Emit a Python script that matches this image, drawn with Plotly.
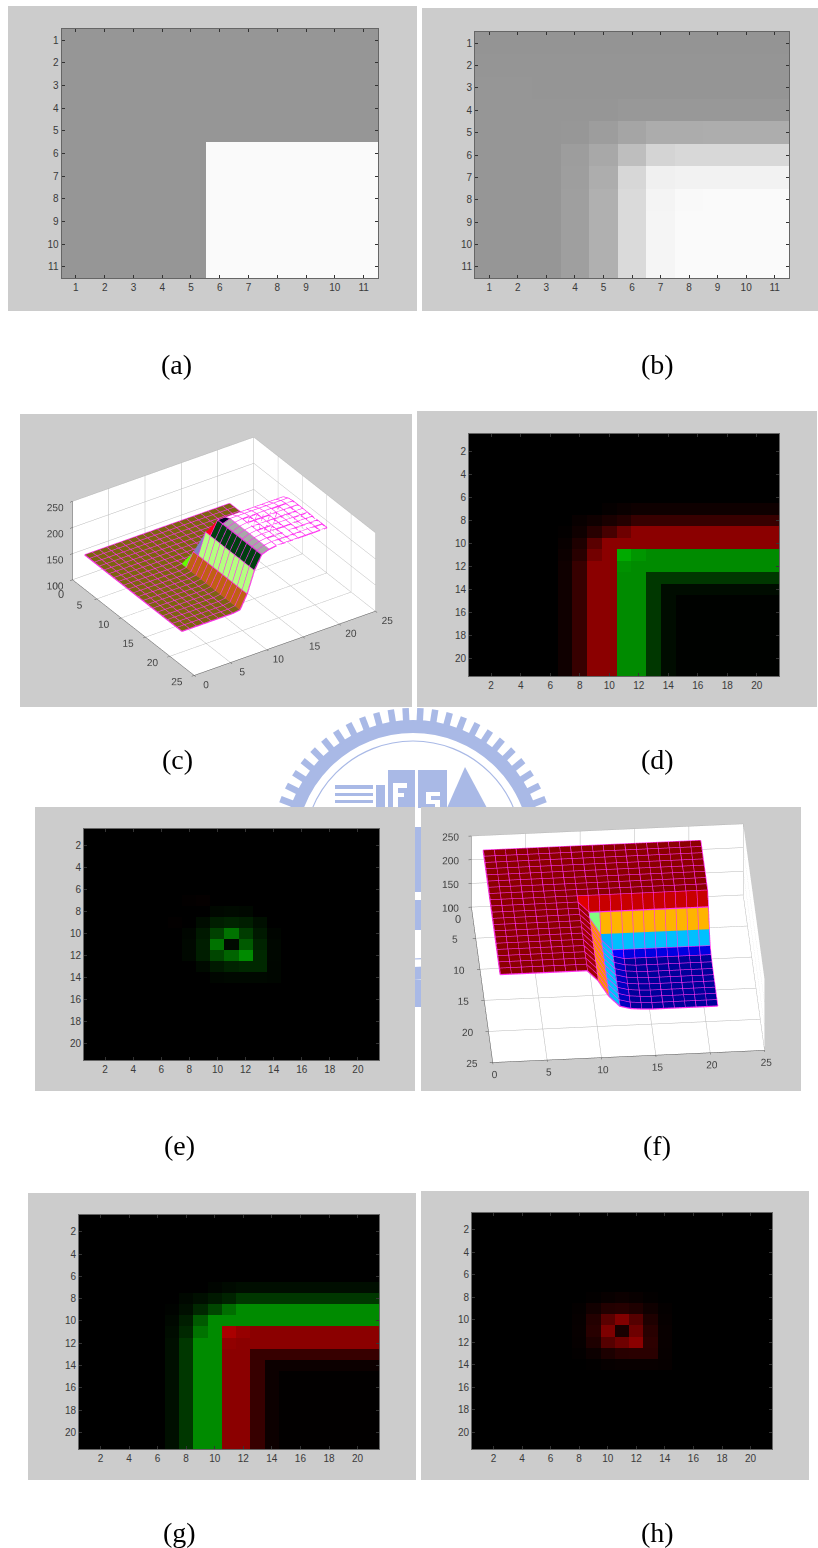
import math
import plotly.graph_objects as go

W, H = 818, 1548
def fx(p): return p / W
def fy(p): return 1 - p / H

# ---------- image data ----------
ticks_11 = [1, 2, 3, 4, 5, 6, 7, 8, 9, 10, 11]
ticks_21 = [2, 4, 6, 8, 10, 12, 14, 16, 18, 20]

panel_a = [
 [150,150,150,150,150,150,150,150,150,150,150],
 [150,150,150,150,150,150,150,150,150,150,150],
 [150,150,150,150,150,150,150,150,150,150,150],
 [150,150,150,150,150,150,150,150,150,150,150],
 [150,150,150,150,150,150,150,150,150,150,150],
 [150,150,150,150,150,250,250,250,250,250,250],
 [150,150,150,150,150,250,250,250,250,250,250],
 [150,150,150,150,150,250,250,250,250,250,250],
 [150,150,150,150,150,250,250,250,250,250,250],
 [150,150,150,150,150,250,250,250,250,250,250],
 [150,150,150,150,150,250,250,250,250,250,250],
]
panel_b = [
 [148,148,148,148,148,148,148,148,148,148,148],
 [149,149,149,149,149,149,149,149,149,149,149],
 [150,150,149,149,149,149,149,149,149,149,149],
 [150,150,150,150,150,152,152,152,152,152,152],
 [150,150,150,151,157,165,172,172,173,173,173],
 [150,150,150,157,168,190,212,216,216,216,216],
 [150,150,150,158,173,215,240,242,242,242,242],
 [150,150,150,159,176,218,244,249,250,250,250],
 [150,150,150,159,176,218,245,250,250,250,250],
 [150,150,150,159,176,218,245,250,250,250,250],
 [150,150,150,159,176,218,245,250,250,250,250],
]
panel_d = [
 [0,0,0,0,0,0,0,0,0,0,0,0,0,0,0,0,0,0,0,0,0],
 [0,0,0,0,0,0,0,0,0,0,0,0,0,0,0,0,0,0,0,0,0],
 [0,0,0,0,0,0,0,0,0,0,0,0,0,0,0,0,0,0,0,0,0],
 [0,0,0,0,0,0,0,0,0,0,0,0,0,0,0,0,0,0,0,0,0],
 [0,0,0,0,0,0,0,0,0,0,0,0,0,0,0,0,0,0,0,0,0],
 [0,0,0,0,0,0,0,0,0,0,0,0,0,0,0,0,0,0,0,0,0],
 [0,0,0,0,0,0,0,0,0,5,10,14,14,14,14,14,14,14,14,14,14],
 [0,0,0,0,0,0,0,8,15,25,35,55,55,55,55,55,55,55,55,55,55],
 [0,0,0,0,0,0,3,15,40,70,110,139,139,139,139,139,139,139,139,139,139],
 [0,0,0,0,0,0,8,30,90,139,139,139,139,139,139,139,139,139,139,139,139],
 [0,0,0,0,0,0,12,40,115,139,-170,-150,-139,-139,-139,-139,-139,-139,-139,-139,-139],
 [0,0,0,0,0,0,15,55,139,139,-145,-139,-139,-139,-139,-139,-139,-139,-139,-139,-139],
 [0,0,0,0,0,0,15,55,139,139,-139,-139,-55,-55,-55,-55,-55,-55,-55,-55,-55],
 [0,0,0,0,0,0,15,55,139,139,-139,-139,-55,-12,-12,-12,-12,-12,-12,-12,-12],
 [0,0,0,0,0,0,15,55,139,139,-139,-139,-55,-12,-2,-2,-2,-2,-2,-2,-2],
 [0,0,0,0,0,0,15,55,139,139,-139,-139,-55,-12,-2,-2,-2,-2,-2,-2,-2],
 [0,0,0,0,0,0,15,55,139,139,-139,-139,-55,-12,-2,-2,-2,-2,-2,-2,-2],
 [0,0,0,0,0,0,15,55,139,139,-139,-139,-55,-12,-2,-2,-2,-2,-2,-2,-2],
 [0,0,0,0,0,0,15,55,139,139,-139,-139,-55,-12,-2,-2,-2,-2,-2,-2,-2],
 [0,0,0,0,0,0,15,55,139,139,-139,-139,-55,-12,-2,-2,-2,-2,-2,-2,-2],
 [0,0,0,0,0,0,15,55,139,139,-139,-139,-55,-12,-2,-2,-2,-2,-2,-2,-2],
]
panel_g = [
 [0,0,0,0,0,0,0,0,0,0,0,0,0,0,0,0,0,0,0,0,0],
 [0,0,0,0,0,0,0,0,0,0,0,0,0,0,0,0,0,0,0,0,0],
 [0,0,0,0,0,0,0,0,0,0,0,0,0,0,0,0,0,0,0,0,0],
 [0,0,0,0,0,0,0,0,0,0,0,0,0,0,0,0,0,0,0,0,0],
 [0,0,0,0,0,0,0,0,0,0,0,0,0,0,0,0,0,0,0,0,0],
 [0,0,0,0,0,0,0,0,0,0,0,0,0,0,0,0,0,0,0,0,0],
 [0,0,0,0,0,0,0,0,0,-5,-10,-14,-14,-14,-14,-14,-14,-14,-14,-14,-14],
 [0,0,0,0,0,0,0,-8,-15,-25,-35,-55,-55,-55,-55,-55,-55,-55,-55,-55,-55],
 [0,0,0,0,0,0,-3,-15,-40,-70,-110,-139,-139,-139,-139,-139,-139,-139,-139,-139,-139],
 [0,0,0,0,0,0,-8,-30,-90,-139,-139,-139,-139,-139,-139,-139,-139,-139,-139,-139,-139],
 [0,0,0,0,0,0,-12,-40,-115,-139,170,150,139,139,139,139,139,139,139,139,139],
 [0,0,0,0,0,0,-15,-55,-139,-139,145,139,139,139,139,139,139,139,139,139,139],
 [0,0,0,0,0,0,-15,-55,-139,-139,139,139,55,55,55,55,55,55,55,55,55],
 [0,0,0,0,0,0,-15,-55,-139,-139,139,139,55,12,12,12,12,12,12,12,12],
 [0,0,0,0,0,0,-15,-55,-139,-139,139,139,55,12,2,2,2,2,2,2,2],
 [0,0,0,0,0,0,-15,-55,-139,-139,139,139,55,12,2,2,2,2,2,2,2],
 [0,0,0,0,0,0,-15,-55,-139,-139,139,139,55,12,2,2,2,2,2,2,2],
 [0,0,0,0,0,0,-15,-55,-139,-139,139,139,55,12,2,2,2,2,2,2,2],
 [0,0,0,0,0,0,-15,-55,-139,-139,139,139,55,12,2,2,2,2,2,2,2],
 [0,0,0,0,0,0,-15,-55,-139,-139,139,139,55,12,2,2,2,2,2,2,2],
 [0,0,0,0,0,0,-15,-55,-139,-139,139,139,55,12,2,2,2,2,2,2,2],
]
panel_e = [
 [0,0,0,0,0,0,0,0,0,0,0,0,0,0,0,0,0,0,0,0,0],
 [0,0,0,0,0,0,0,0,0,0,0,0,0,0,0,0,0,0,0,0,0],
 [0,0,0,0,0,0,0,0,0,0,0,0,0,0,0,0,0,0,0,0,0],
 [0,0,0,0,0,0,0,0,0,0,0,0,0,0,0,0,0,0,0,0,0],
 [0,0,0,0,0,0,0,0,0,0,0,0,0,0,0,0,0,0,0,0,0],
 [0,0,0,0,0,0,0,0,0,0,0,0,0,0,0,0,0,0,0,0,0],
 [0,0,0,0,0,0,0,3,5,0,0,0,0,0,0,0,0,0,0,0,0],
 [0,0,0,0,0,0,0,0,0,-8,-10,-8,0,0,0,0,0,0,0,0,0],
 [0,0,0,0,0,0,3,0,-12,-30,-35,-30,-15,0,0,0,0,0,0,0,0],
 [0,0,0,0,0,0,0,-6,-25,-65,-115,-60,-25,-5,0,0,0,0,0,0,0],
 [0,0,0,0,0,0,0,-8,-30,-115,-10,-90,-35,-7,0,0,0,0,0,0,0],
 [0,0,0,0,0,0,0,-8,-30,-70,-100,-139,-40,-7,0,0,0,0,0,0,0],
 [0,0,0,0,0,0,0,0,-10,-25,-35,-40,-40,-6,0,0,0,0,0,0,0],
 [0,0,0,0,0,0,0,0,0,-6,-8,-8,-8,-6,0,0,0,0,0,0,0],
 [0,0,0,0,0,0,0,0,0,0,0,0,0,0,0,0,0,0,0,0,0],
 [0,0,0,0,0,0,0,0,0,0,0,0,0,0,0,0,0,0,0,0,0],
 [0,0,0,0,0,0,0,0,0,0,0,0,0,0,0,0,0,0,0,0,0],
 [0,0,0,0,0,0,0,0,0,0,0,0,0,0,0,0,0,0,0,0,0],
 [0,0,0,0,0,0,0,0,0,0,0,0,0,0,0,0,0,0,0,0,0],
 [0,0,0,0,0,0,0,0,0,0,0,0,0,0,0,0,0,0,0,0,0],
 [0,0,0,0,0,0,0,0,0,0,0,0,0,0,0,0,0,0,0,0,0],
]
panel_h = [
 [0,0,0,0,0,0,0,0,0,0,0,0,0,0,0,0,0,0,0,0,0],
 [0,0,0,0,0,0,0,0,0,0,0,0,0,0,0,0,0,0,0,0,0],
 [0,0,0,0,0,0,0,0,0,0,0,0,0,0,0,0,0,0,0,0,0],
 [0,0,0,0,0,0,0,0,0,0,0,0,0,0,0,0,0,0,0,0,0],
 [0,0,0,0,0,0,0,0,0,0,0,0,0,0,0,0,0,0,0,0,0],
 [0,0,0,0,0,0,0,0,0,0,0,0,0,0,0,0,0,0,0,0,0],
 [0,0,0,0,0,0,0,0,0,0,0,0,0,0,0,0,0,0,0,0,0],
 [0,0,0,0,0,0,0,0,3,8,12,8,3,0,0,0,0,0,0,0,0],
 [0,0,0,0,0,0,0,4,18,35,38,30,15,4,0,0,0,0,0,0,0],
 [0,0,0,0,0,0,0,6,35,90,130,85,30,6,0,0,0,0,0,0,0],
 [0,0,0,0,0,0,0,7,40,125,25,110,40,8,0,0,0,0,0,0,0],
 [0,0,0,0,0,0,0,6,30,85,110,139,45,8,0,0,0,0,0,0,0],
 [0,0,0,0,0,0,0,3,12,28,40,42,42,7,0,0,0,0,0,0,0],
 [0,0,0,0,0,0,0,0,2,6,8,8,8,6,0,0,0,0,0,0,0],
 [0,0,0,0,0,0,0,0,0,0,0,0,0,0,0,0,0,0,0,0,0],
 [0,0,0,0,0,0,0,0,0,0,0,0,0,0,0,0,0,0,0,0,0],
 [0,0,0,0,0,0,0,0,0,0,0,0,0,0,0,0,0,0,0,0,0],
 [0,0,0,0,0,0,0,0,0,0,0,0,0,0,0,0,0,0,0,0,0],
 [0,0,0,0,0,0,0,0,0,0,0,0,0,0,0,0,0,0,0,0,0],
 [0,0,0,0,0,0,0,0,0,0,0,0,0,0,0,0,0,0,0,0,0],
 [0,0,0,0,0,0,0,0,0,0,0,0,0,0,0,0,0,0,0,0,0],
]

# ---------- surfaces: height against grid index ----------
grid_1_21 = [1,2,3,4,5,6,7,8,9,10,11,12,13,14,15,16,17,18,19,20,21]
height_c = [150,150,150,150,150,150,150,150,152,178,218,243,248,250,250,250,250,250,250,250,250]
height_f = [232,232,232,232,232,232,232,232,232,210,176,154,148,146,145,145,145,145,145,145,145]
band_c = ['#7c6410','#7c6410','#7c6410','#7c6410','#7c6410','#7c6410','#7c6410','#7c6410',
          '#c06014','#b4ff80','#004010','#a8a8a8','#ffffff','#ffffff','#ffffff','#ffffff',
          '#ffffff','#ffffff','#ffffff','#ffffff']
corner_c = {8: '#60ff00', 9: '#8080c0', 10: '#ff0020', 11: '#000020'}
band_f_row = ['#8b0000','#8b0000','#8b0000','#8b0000','#8b0000','#8b0000','#8b0000','#8b0000',
              '#c80000','#ffb400','#00c0ff','#0000e0','#00009a','#00009a','#00009a','#00009a',
              '#00009a','#00009a','#00009a','#00009a']
band_f_col = ['#8b0000','#8b0000','#8b0000','#8b0000','#8b0000','#8b0000','#8b0000','#8b0000',
              '#a00000','#ff9000','#00c0ff','#0000c0','#00009a','#00009a','#00009a','#00009a',
              '#00009a','#00009a','#00009a','#00009a']
corner_f = {8: '#e00000', 9: '#80ff80', 10: '#00b0ff', 11: '#0000ff'}

axis_ticks_3d = [0, 5, 10, 15, 20, 25]
ztick_3d = [100, 150, 200, 250]

GREY = '#cccccc'
fig = go.Figure()
shapes = []
WM = '#a9b9e6'

# watermark behind everything
cx, cy = 413, 850
shapes.append(dict(type='circle', xref='paper', yref='paper', layer='below',
                   x0=fx(cx-123.5), x1=fx(cx+123.5), y0=fy(cy-123.5), y1=fy(cy+123.5),
                   line=dict(color=WM, width=13)))
shapes.append(dict(type='circle', xref='paper', yref='paper', layer='below',
                   x0=fx(cx-109), x1=fx(cx+109), y0=fy(cy-109), y1=fy(cy+109),
                   line=dict(color=WM, width=1.2)))
for deg in range(-90, 90, 6):
    t = math.radians(deg + 3)
    shapes.append(dict(type='line', xref='paper', yref='paper', layer='below',
                       x0=fx(cx+128*math.sin(t)), y0=fy(cy-128*math.cos(t)),
                       x1=fx(cx+142*math.sin(t)), y1=fy(cy-142*math.cos(t)),
                       line=dict(color=WM, width=6.5)))
for (x0, y0, x1, y1) in [(388, 770, 415, 808), (418, 770, 447, 808), (335, 785, 373, 789),
                         (335, 793, 373, 796), (335, 800, 373, 803), (376, 785, 385, 808),
                         (414, 827, 422, 892), (414, 900, 422, 930), (414, 980, 422, 1007)]:
    shapes.append(dict(type='rect', xref='paper', yref='paper', layer='below',
                       x0=fx(x0), x1=fx(x1), y0=fy(y0), y1=fy(y1),
                       fillcolor=WM, line=dict(width=0)))
shapes.append(dict(type='path', xref='paper', yref='paper', layer='below',
                   path=f'M {fx(447)} {fy(808)} L {fx(465)} {fy(767)} L {fx(487)} {fy(808)} Z',
                   fillcolor=WM, line=dict(width=0)))
for (x0, y0, x1, y1) in [(393, 783, 407, 788), (393, 783, 398, 808), (393, 793, 404, 797),
                         (426, 792, 440, 796), (426, 796, 431, 800), (426, 800, 440, 804),
                         (435, 804, 440, 808)]:
    shapes.append(dict(type='rect', xref='paper', yref='paper', layer='below',
                       x0=fx(x0), x1=fx(x1), y0=fy(y0), y1=fy(y1),
                       fillcolor='white', line=dict(width=0)))

panels = [(8, 6, 417, 311), (422, 8, 818, 311), (20, 414, 412, 707), (417, 411, 817, 707),
          (35, 807, 415, 1091), (421, 807, 801, 1091), (28, 1193, 416, 1480), (421, 1191, 809, 1480)]
for (x0, y0, x1, y1) in panels:
    shapes.append(dict(type='rect', xref='paper', yref='paper', layer='below',
                       x0=fx(x0), x1=fx(x1), y0=fy(y0), y1=fy(y1),
                       fillcolor=GREY, line=dict(width=0)))

rb_scale = [[0, 'rgb(0,170,0)'], [0.5, 'rgb(0,0,0)'], [1, 'rgb(170,0,0)']]
grey_scale = [[0, 'rgb(0,0,0)'], [1, 'rgb(255,255,255)']]

images = [
    (panel_a, ticks_11, (61.5, 29, 378, 278), grey_scale, 0, 255, 'a'),
    (panel_b, ticks_11, (475, 32, 789, 278), grey_scale, 0, 255, 'b'),
    (panel_d, ticks_21, (469, 434, 779, 676), rb_scale, -170, 170, 'd'),
    (panel_e, ticks_21, (84, 829, 379, 1060), rb_scale, -170, 170, 'e'),
    (panel_g, ticks_21, (79, 1215, 379, 1449), rb_scale, -170, 170, 'g'),
    (panel_h, ticks_21, (472, 1213, 772, 1449), rb_scale, -170, 170, 'h'),
]
layout_axes = {}
for n, (vals, tk, (x0, y0, x1, y1), cs, zmin, zmax, _) in enumerate(images, start=1):
    size = len(vals)
    idx = list(range(1, size + 1))
    s = '' if n == 1 else str(n)
    fig.add_trace(go.Heatmap(z=vals, x=idx, y=idx, colorscale=cs, zmin=zmin, zmax=zmax,
                             showscale=False, xaxis='x' + s, yaxis='y' + s, hoverinfo='skip'))
    common = dict(tickvals=tk, ticks='inside', ticklen=3, tickcolor='#333333', tickwidth=1,
                  showgrid=False, zeroline=False, showline=True, linecolor='#666666', linewidth=1,
                  mirror='allticks', tickfont=dict(family='Liberation Sans', size=10, color='#3a3a3a'))
    layout_axes['xaxis' + s] = dict(domain=[fx(x0), fx(x1)], range=[0.5, size + 0.5],
                                    anchor='y' + s, **common)
    layout_axes['yaxis' + s] = dict(domain=[fy(y1), fy(y0)], range=[size + 0.5, 0.5],
                                    anchor='x' + s, **common)

def add_surface(scene, heights, color_of):
    n = len(grid_1_21)
    vx, vy, vz, fi, fj, fk, fc = [], [], [], [], [], [], []
    for r in range(n):
        for c in range(n):
            vx.append(grid_1_21[c])
            vy.append(25 - grid_1_21[r])
            vz.append(heights[min(r, c)])
    for r in range(n - 1):
        for c in range(n - 1):
            a = r * n + c; b = a + 1; d = a + n; e = d + 1
            col = color_of(r, c)
            fi += [a, a]; fj += [b, e]; fk += [e, d]; fc += [col, col]
    fig.add_trace(go.Mesh3d(x=vx, y=vy, z=vz, i=fi, j=fj, k=fk, facecolor=fc, flatshading=True,
                            lighting=dict(ambient=1, diffuse=0, specular=0, roughness=1, fresnel=0),
                            hoverinfo='skip', scene=scene))
    lx, ly, lz = [], [], []
    for r in range(n):
        for c in range(n):
            lx.append(grid_1_21[c]); ly.append(25 - grid_1_21[r]); lz.append(heights[min(r, c)])
        lx.append(None); ly.append(None); lz.append(None)
    for c in range(n):
        for r in range(n):
            lx.append(grid_1_21[c]); ly.append(25 - grid_1_21[r]); lz.append(heights[min(r, c)])
        lx.append(None); ly.append(None); lz.append(None)
    fig.add_trace(go.Scatter3d(x=lx, y=ly, z=lz, mode='lines', line=dict(color='#ff30f0', width=2.5),
                               hoverinfo='skip', scene=scene, showlegend=False))

def color_c(r, c):
    if r == c and r in corner_c:
        return corner_c[r]
    # the face that looks away from the viewer is hidden behind the plateau
    return '#ffffff' if 8 <= r < c else band_c[min(r, c)]

def color_f(r, c):
    if r == c and r in corner_f:
        return corner_f[r]
    return band_f_row[r] if r < c else band_f_col[c]

add_surface('scene', height_c, color_c)
add_surface('scene2', height_f, color_f)

def scene_layout(box, eye, ratio, zratio, zero_shift, center_z=-0.05):
    x0, y0, x1, y1 = box
    ax = dict(showbackground=True, backgroundcolor='white', gridcolor='#b8b8b8', gridwidth=1,
              zeroline=False, showline=True, linecolor='#555555', showspikes=False, title='',
              ticks='outside', ticklen=3, tickcolor='#555555', tickangle=0,
              tickfont=dict(family='Liberation Sans', size=11, color='#444444'))
    return dict(
        domain=dict(x=[fx(x0), fx(x1)], y=[fy(y1), fy(y0)]),
        bgcolor='rgba(0,0,0,0)',
        aspectmode='manual', aspectratio=dict(x=ratio, y=ratio, z=zratio),
        camera=dict(eye=eye, up=dict(x=0, y=0, z=1), center=dict(x=0, y=0, z=center_z),
                    projection=dict(type='orthographic')),
        xaxis=dict(range=[0, 25], tickvals=axis_ticks_3d, **ax),
        yaxis=dict(range=[0, 25], tickvals=axis_ticks_3d,
                   ticktext=[str(25 - v) for v in axis_ticks_3d], **ax),
        zaxis=dict(range=[100, 250], tickvals=ztick_3d, **ax),
        annotations=[dict(x=0, y=25, z=100, text='0', showarrow=False,
                          xshift=zero_shift[0], yshift=zero_shift[1],
                          font=dict(family='Liberation Sans', size=11, color='#444444'))],
    )

scene_c = scene_layout((28, 416, 420, 709), dict(x=-0.96, y=-1.43, z=1.02), 1.49, 0.63, (-12, -14))
scene_f = scene_layout((428, 807, 808, 1091), dict(x=-0.13, y=-1.66, z=1.11), 1.92, 0.61, (-13, -12))

labels = [('(a)', 176, 364), ('(b)', 657, 364), ('(c)', 177, 759), ('(d)', 657, 759),
          ('(e)', 179, 1145), ('(f)', 657, 1145), ('(g)', 179, 1532), ('(h)', 657, 1532)]
annotations = [dict(text=t, x=fx(x), y=fy(y), xref='paper', yref='paper', showarrow=False,
                    xanchor='center', yanchor='middle',
                    font=dict(family='Liberation Serif', size=28, color='black'))
               for (t, x, y) in labels]

fig.update_layout(width=W, height=H, margin=dict(l=0, r=0, t=0, b=0, pad=0), autosize=False,
                  paper_bgcolor='white', plot_bgcolor='black', showlegend=False,
                  shapes=shapes, annotations=annotations, scene=scene_c, scene2=scene_f,
                  **layout_axes)
fig.write_html("out.html", post_script="document.body.style.margin='0';", config=dict(displayModeBar=False))
